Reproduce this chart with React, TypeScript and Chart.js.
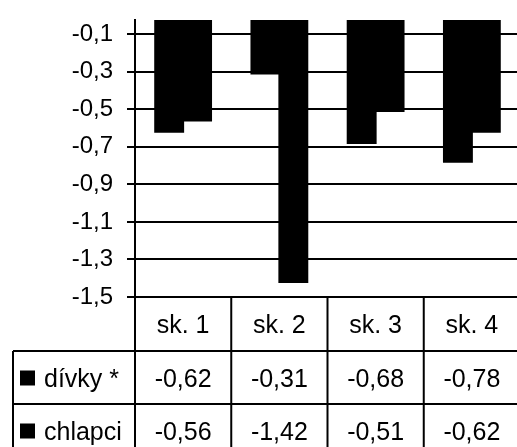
import React, { useEffect, useRef } from "react";
import { Chart, registerables } from "chart.js";

Chart.register(...registerables);

// Groups and the two series (mean values per group)
const categories = ["sk. 1", "sk. 2", "sk. 3", "sk. 4"];
const seriesNames = ["dívky *", "chlapci"];
const divky = [-0.62, -0.31, -0.68, -0.78];
const chlapci = [-0.56, -1.42, -0.51, -0.62];
const yTicks = [-0.1, -0.3, -0.5, -0.7, -0.9, -1.1, -1.3, -1.5];

const FONT = "'Liberation Sans', Arial, sans-serif";
const fmt = (v: number, d: number) => v.toFixed(d).replace(".", ",");

// Excel-style data table drawn under the plot, aligned with the category columns
const dataTablePlugin = {
  id: "dataTable",
  afterDraw(chart: any) {
    const { ctx, chartArea, scales } = chart;
    const x = scales.x;
    const top = chartArea.bottom;
    const rowH = [54, 53, 53];
    const rows = [top, top + rowH[0], top + rowH[0] + rowH[1]];
    const bottom = rows[2] + rowH[2];
    const legendLeft = 13;
    const colW = chartArea.width / categories.length;

    ctx.save();
    ctx.strokeStyle = "#000";
    ctx.lineWidth = 2;
    ctx.beginPath();
    // row separators
    ctx.moveTo(legendLeft, rows[1]);
    ctx.lineTo(chartArea.right, rows[1]);
    ctx.moveTo(legendLeft, rows[2]);
    ctx.lineTo(chartArea.right, rows[2]);
    // legend column border
    ctx.moveTo(legendLeft, rows[1]);
    ctx.lineTo(legendLeft, bottom);
    // column separators
    for (let i = 0; i <= categories.length; i++) {
      const cx = i === 0 ? chartArea.left : x.getPixelForValue(i - 1) + colW / 2;
      ctx.moveTo(cx, top);
      ctx.lineTo(cx, bottom);
    }
    ctx.stroke();

    ctx.fillStyle = "#000";
    ctx.font = `25px ${FONT}`;
    ctx.textAlign = "center";
    ctx.textBaseline = "alphabetic";
    const base = (r: number) => rows[r] + rowH[r] / 2 + 9;
    categories.forEach((c, i) => {
      const cx = x.getPixelForValue(i);
      ctx.fillText(c, cx, base(0));
      ctx.fillText(fmt(divky[i], 2), cx, base(1));
      ctx.fillText(fmt(chlapci[i], 2), cx, base(2));
    });

    ctx.textAlign = "left";
    seriesNames.forEach((name, k) => {
      const b = base(k + 1);
      ctx.fillRect(20, b - 16, 15, 15);
      ctx.fillText(name, 44, b);
    });
    ctx.restore();
  },
};

export default function App() {
  const canvasRef = useRef<HTMLCanvasElement | null>(null);

  useEffect(() => {
    const canvas = canvasRef.current;
    if (!canvas) return;
    const chart = new Chart(canvas, {
      type: "bar",
      data: {
        labels: categories,
        datasets: [
          { label: seriesNames[0], data: divky, backgroundColor: "#000", clip: 0 } as any,
          { label: seriesNames[1], data: chlapci, backgroundColor: "#000", clip: 0 } as any,
        ],
      },
      options: {
        animation: false,
        responsive: false,
        devicePixelRatio: 1,
        layout: { padding: { top: 20, bottom: 150, left: 0, right: 1 } },
        plugins: { legend: { display: false }, tooltip: { enabled: false } },
        datasets: { bar: { categoryPercentage: 0.58, barPercentage: 1, borderWidth: 0, inflateAmount: 1 } as any },
        scales: {
          x: { display: false },
          y: {
            min: -1.5,
            max: -0.025,
            afterBuildTicks: (scale: any) => {
              scale.ticks = yTicks.map((v) => ({ value: v }));
            },
            afterFit: (scale: any) => {
              scale.width = 135;
              scale.paddingTop = 0;
              scale.paddingBottom = 0;
            },
            grid: { color: "#000", lineWidth: 2, tickLength: 8, drawTicks: true },
            border: { display: true, color: "#000", width: 2 },
            ticks: {
              padding: 14,
              color: "#000",
              font: { family: FONT, size: 24 },
              callback: (v: any) => fmt(Number(v), 1),
            },
          },
        },
      },
      plugins: [dataTablePlugin],
    });
    return () => chart.destroy();
  }, []);

  return (
    <div style={{ position: "fixed", left: 0, top: 0, width: 517, height: 447, overflow: "hidden", background: "#fff" }}>
      <canvas ref={canvasRef} width={521} height={447} style={{ display: "block" }} />
    </div>
  );
}
